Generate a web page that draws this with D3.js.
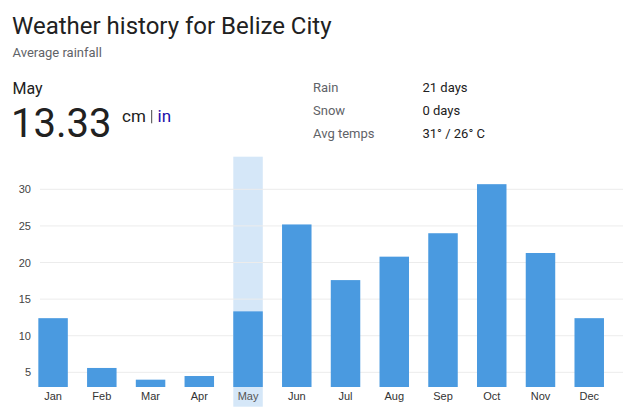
<!DOCTYPE html>
<html><head><meta charset="utf-8">
<script src="https://cdn.jsdelivr.net/npm/d3@7"></script>
<style>
html,body{margin:0;padding:0;background:#fff;}
svg{display:block;}
</style></head>
<body>
<svg id="chart" width="626" height="417"></svg>
<script>
const months = ["Jan","Feb","Mar","Apr","May","Jun","Jul","Aug","Sep","Oct","Nov","Dec"];
const rainfallCm = [12.4, 5.6, 4.0, 4.5, 13.33, 25.2, 17.6, 20.8, 24.0, 30.7, 21.3, 12.4];
const yTicks = [5, 10, 15, 20, 25, 30];
const selectedMonth = "May";
const infoLabels = ["Rain", "Snow", "Avg temps"];
const infoValues = ["21 days", "0 days", "31° / 26° C"];

const svg = d3.select("#chart");
const roboto = "Roboto, 'Noto Sans', Arial, sans-serif";
const arial = "'Liberation Sans', Arial, sans-serif";

// Header
svg.append("text").attr("x", 12).attr("y", 34.3)
  .attr("font-family", roboto).attr("font-size", 24).attr("fill", "#212121")
  .text("Weather history for Belize City");
svg.append("text").attr("x", 12.5).attr("y", 56.7)
  .attr("font-family", roboto).attr("font-size", 13).attr("fill", "#5f6368")
  .text("Average rainfall");
svg.append("text").attr("x", 12.5).attr("y", 94.3)
  .attr("font-family", roboto).attr("font-size", 16).attr("fill", "#212121")
  .text(selectedMonth);
const selIdx = months.indexOf(selectedMonth);
svg.append("text").attr("x", 11).attr("y", 136.7)
  .attr("font-family", roboto).attr("font-size", 40).attr("fill", "#212121")
  .text(rainfallCm[selIdx].toFixed(2));
svg.append("text").attr("x", 122).attr("y", 121.7)
  .attr("font-family", roboto).attr("font-size", 17).attr("fill", "#212121")
  .text("cm");
svg.append("line").attr("x1", 151.7).attr("x2", 151.7).attr("y1", 110).attr("y2", 123.3)
  .attr("stroke", "#444").attr("stroke-width", 1);
svg.append("text").attr("x", 157.5).attr("y", 121.7)
  .attr("font-family", roboto).attr("font-size", 17).attr("fill", "#1a0dab")
  .text("in");

infoLabels.forEach((l, i) => {
  svg.append("text").attr("x", 313).attr("y", 91.7 + i * 23.3)
    .attr("font-family", roboto).attr("font-size", 13).attr("fill", "#5f6368").text(l);
  svg.append("text").attr("x", 422.5).attr("y", 91.7 + i * 23.3)
    .attr("font-family", roboto).attr("font-size", 13).attr("fill", "#212121").text(infoValues[i]);
});

// Chart
const x = d3.scaleBand().domain(months).range([28.7, 613.6]).paddingInner(0.395).paddingOuter(0.1975);
const y = d3.scaleLinear().domain([3, 30]).range([387, 189.3]);

// highlight band
svg.append("rect")
  .attr("x", x(selectedMonth)).attr("width", x.bandwidth())
  .attr("y", 156.7).attr("height", 406.7 - 156.7)
  .attr("fill", "#d5e7f8");

// gridlines
const grid = svg.append("g");
grid.selectAll("line").data(yTicks).join("line")
  .attr("x1", 40).attr("x2", 623)
  .attr("y1", d => y(d)).attr("y2", d => y(d))
  .attr("stroke", "#ececec").attr("stroke-width", 1);

// y tick labels via axis
const yAxis = svg.append("g").attr("transform", "translate(31,0)")
  .call(d3.axisLeft(y).tickValues(yTicks).tickSize(0).tickPadding(0));
yAxis.select(".domain").remove();
yAxis.selectAll("text").attr("font-family", arial).attr("font-size", 11).attr("fill", "#444");

// bars
svg.append("g").selectAll("rect").data(rainfallCm).join("rect")
  .attr("x", (d, i) => x(months[i]))
  .attr("width", x.bandwidth())
  .attr("y", d => y(d))
  .attr("height", d => y(3) - y(d))
  .attr("fill", "#4a9ae0");

// x labels via axis
const xAxis = svg.append("g").attr("transform", "translate(0,389)")
  .call(d3.axisBottom(x).tickSize(0).tickPadding(3));
xAxis.select(".domain").remove();
xAxis.selectAll("text").attr("font-family", arial).attr("font-size", 11)
  .attr("fill", d => d === selectedMonth ? "#555" : "#333");
</script>
</body></html>
